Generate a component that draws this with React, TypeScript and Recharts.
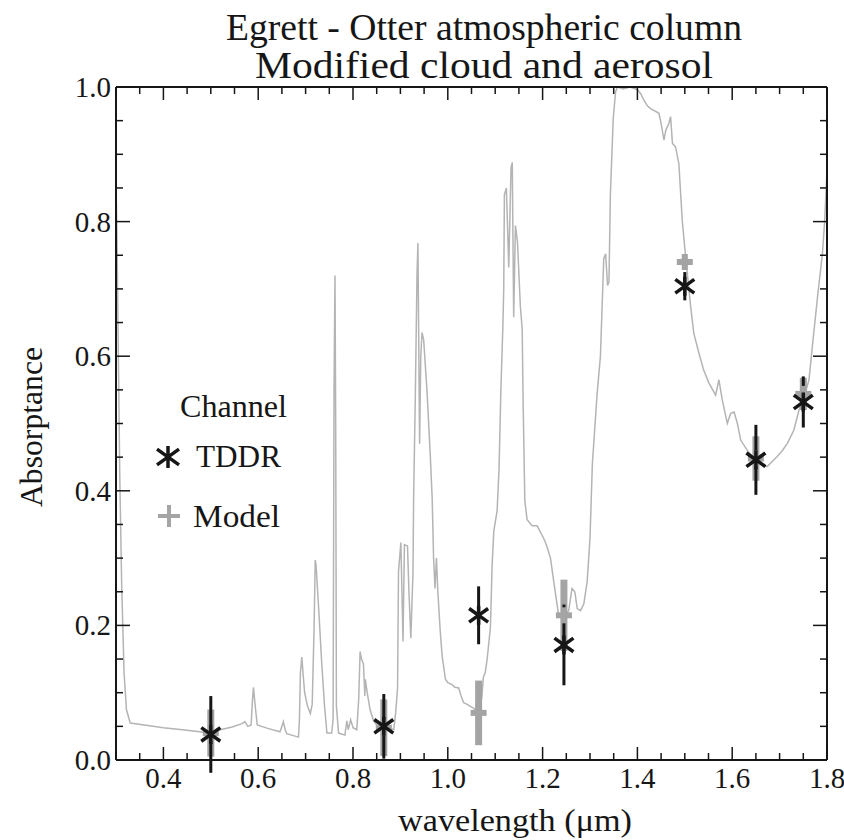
import React from 'react';
import { ComposedChart, Line, Scatter, ErrorBar, XAxis, YAxis, Legend } from 'recharts';

// modelled spectrum (gray line)
const specWl = [
  0.3, 0.302, 0.305, 0.308, 0.312, 0.317, 0.322, 0.33, 0.36, 0.4, 0.44, 0.477, 0.5, 0.52, 0.545, 0.566,
  0.572, 0.578, 0.585, 0.588, 0.59, 0.593, 0.598, 0.62, 0.646, 0.65, 0.653, 0.657, 0.66, 0.685, 0.687,
  0.689, 0.692, 0.695, 0.698, 0.704, 0.71, 0.714, 0.718, 0.7203, 0.722, 0.724, 0.728, 0.734, 0.74, 0.745,
  0.755, 0.758, 0.76, 0.762, 0.7635, 0.765, 0.7695, 0.783, 0.787, 0.79, 0.795, 0.8, 0.808, 0.812, 0.815,
  0.818, 0.822, 0.825, 0.826, 0.83, 0.836, 0.843, 0.852, 0.861, 0.87, 0.879, 0.886, 0.89, 0.894, 0.896,
  0.901, 0.9055, 0.9085, 0.915, 0.918, 0.922, 0.9265, 0.928, 0.9315, 0.935, 0.937, 0.938, 0.9405, 0.943,
  0.9456, 0.949, 0.956, 0.963, 0.967, 0.97, 0.973, 0.976, 0.979, 0.984, 0.988, 0.995, 1.0, 1.009, 1.015,
  1.023, 1.028, 1.0335, 1.04, 1.054, 1.062, 1.068, 1.072, 1.075, 1.079, 1.083, 1.09, 1.0934, 1.097, 1.104,
  1.108, 1.112, 1.116, 1.118, 1.1194, 1.1236, 1.1286, 1.1334, 1.136, 1.139, 1.1427, 1.147, 1.153, 1.157,
  1.159, 1.1625, 1.1673, 1.178, 1.1884, 1.199, 1.205, 1.2096, 1.2166, 1.227, 1.234, 1.24, 1.248, 1.255,
  1.262, 1.268, 1.273, 1.28, 1.287, 1.294, 1.3, 1.305, 1.315, 1.322, 1.329, 1.333, 1.337, 1.34, 1.343,
  1.349, 1.354, 1.358, 1.37, 1.385, 1.4, 1.407, 1.414, 1.421, 1.428, 1.4455, 1.45, 1.456, 1.46, 1.466,
  1.47, 1.474, 1.4805, 1.4875, 1.4946, 1.5017, 1.5123, 1.519, 1.53, 1.54, 1.551, 1.565, 1.572, 1.579,
  1.5897, 1.5967, 1.604, 1.611, 1.618, 1.632, 1.6425, 1.653, 1.664, 1.674, 1.685, 1.695, 1.706, 1.716,
  1.73, 1.741, 1.752, 1.762, 1.769, 1.78, 1.7904, 1.795, 1.8,
];
const specAbs = [
  0.86, 0.78, 0.6, 0.42, 0.26, 0.13, 0.075, 0.055, 0.052, 0.048, 0.045, 0.042, 0.039, 0.045, 0.049, 0.054,
  0.057, 0.05, 0.052, 0.09, 0.108, 0.085, 0.052, 0.047, 0.042, 0.05, 0.057, 0.045, 0.039, 0.034, 0.06,
  0.129, 0.153, 0.125, 0.1, 0.08, 0.069, 0.083, 0.2, 0.297, 0.29, 0.267, 0.22, 0.144, 0.08, 0.04,
  0.04, 0.06, 0.55, 0.72, 0.5, 0.08, 0.04, 0.037, 0.058, 0.045, 0.06, 0.048, 0.045, 0.09, 0.161,
  0.15, 0.143, 0.095, 0.12, 0.1, 0.075, 0.059, 0.05, 0.047, 0.048, 0.047, 0.045, 0.07, 0.107, 0.28,
  0.323, 0.176, 0.32, 0.318, 0.25, 0.181, 0.278, 0.395, 0.541, 0.72, 0.768, 0.68, 0.47, 0.6,
  0.635, 0.625, 0.55, 0.453, 0.39, 0.3, 0.255, 0.3, 0.25, 0.192, 0.155, 0.12, 0.115, 0.112, 0.108,
  0.107, 0.095, 0.085, 0.083, 0.077, 0.072, 0.075, 0.095, 0.123, 0.13, 0.15, 0.198, 0.287, 0.34, 0.37,
  0.43, 0.55, 0.64, 0.7, 0.84, 0.85, 0.732, 0.88, 0.888, 0.658, 0.794, 0.77, 0.675, 0.64,
  0.527, 0.385, 0.357, 0.348, 0.348, 0.334, 0.325, 0.316, 0.3, 0.248, 0.214, 0.215, 0.215, 0.222,
  0.255, 0.25, 0.225, 0.222, 0.232, 0.265, 0.33, 0.44, 0.544, 0.6, 0.745, 0.752, 0.705, 0.71, 0.84,
  0.953, 0.993, 1.0, 0.997, 1.0, 0.996, 0.99, 0.98, 0.972, 0.968, 0.961, 0.946, 0.921, 0.936, 0.945,
  0.956, 0.916, 0.911, 0.886, 0.802, 0.748, 0.674, 0.634, 0.604, 0.579, 0.56, 0.542, 0.565, 0.535,
  0.5, 0.515, 0.517, 0.5, 0.475, 0.46, 0.451, 0.445, 0.437, 0.436, 0.444, 0.451, 0.46, 0.47,
  0.49, 0.52, 0.54, 0.565, 0.614, 0.688, 0.753, 0.8, 0.875,
];

// channel measurements
const channelWl = [0.5, 0.865, 1.065, 1.245, 1.5, 1.65, 1.75];
const tddrAbs = [0.038, 0.05, 0.215, 0.171, 0.704, 0.446, 0.532];
const tddrErr = [0.057, 0.048, 0.043, 0.06, 0.021, 0.052, 0.038];
const modelAbs = [0.04, 0.048, 0.07, 0.215, 0.74, 0.448, 0.544];
const modelErr = [0.035, 0.042, 0.048, 0.053, 0.005, 0.033, 0.024];

const xTicks = [
  0.3, 0.35, 0.4, 0.45, 0.5, 0.55, 0.6, 0.65, 0.7, 0.75, 0.8, 0.85, 0.9, 0.95, 1.0, 1.05,
  1.1, 1.15, 1.2, 1.25, 1.3, 1.35, 1.4, 1.45, 1.5, 1.55, 1.6, 1.65, 1.7, 1.75, 1.8,
];
const yTicks = [
  0, 0.05, 0.1, 0.15, 0.2, 0.25, 0.3, 0.35, 0.4, 0.45, 0.5, 0.55, 0.6, 0.65, 0.7, 0.75, 0.8, 0.85, 0.9, 0.95, 1.0,
];

const spectrum = specWl.map((w, i) => ({ w, a: specAbs[i] }));
const tddr = channelWl.map((w, i) => ({ w, v: tddrAbs[i], e: tddrErr[i] }));
const model = channelWl.map((w, i) => ({ w, v: modelAbs[i], e: modelErr[i] }));

const FONT = 'Liberation Serif, Tinos, DejaVu Serif, Times New Roman, serif';
const serif = { fontFamily: FONT };
const INK = '#161616';
const LINE_GRAY = '#b4b4b4';
const MODEL_GRAY = '#a4a4a4';

const isMajor = (v: number) => Math.round(v * 100) % 20 === 0;

function BottomTick(props: any) {
  const { x, y, payload } = props;
  const v = payload.value;
  return (
    <g>
      <line x1={x} x2={x} y1={y} y2={y - (isMajor(v) ? 13 : 7)} stroke={INK} strokeWidth={1.5} />
      {isMajor(v) && (
        <text x={x} y={y + 28} textAnchor="middle" fontSize={29} style={serif} fill={INK}>
          {v.toFixed(1)}
        </text>
      )}
    </g>
  );
}

function TopTick(props: any) {
  const { x, y, payload } = props;
  return <line x1={x} x2={x} y1={y} y2={y + (isMajor(payload.value) ? 13 : 7)} stroke={INK} strokeWidth={1.5} />;
}

function LeftTick(props: any) {
  const { x, y, payload } = props;
  const v = payload.value;
  return (
    <g>
      <line x1={x} x2={x + (isMajor(v) ? 14 : 7)} y1={y} y2={y} stroke={INK} strokeWidth={1.5} />
      {isMajor(v) && (
        <text x={x - 5} y={y + 10} textAnchor="end" fontSize={29} style={serif} fill={INK}>
          {v.toFixed(1)}
        </text>
      )}
    </g>
  );
}

function RightTick(props: any) {
  const { x, y, payload } = props;
  return <line x1={x} x2={x - (isMajor(payload.value) ? 14 : 7)} y1={y} y2={y} stroke={INK} strokeWidth={1.5} />;
}

function Star(props: any) {
  const { cx, cy } = props;
  const r = props.r ?? 9;
  const dx = r;
  const dy = r * 0.72;
  return (
    <g stroke={INK} strokeWidth={3.5}>
      <line x1={cx} x2={cx} y1={cy - r} y2={cy + r} />
      <line x1={cx - dx} x2={cx + dx} y1={cy - dy} y2={cy + dy} />
      <line x1={cx - dx} x2={cx + dx} y1={cy + dy} y2={cy - dy} />
    </g>
  );
}

function Plus(props: any) {
  const { cx, cy } = props;
  const r = props.r ?? 8;
  return (
    <g stroke={MODEL_GRAY} strokeWidth={props.sw ?? 6}>
      <line x1={cx - r} x2={cx + r} y1={cy} y2={cy} />
      <line x1={cx} x2={cx} y1={cy - r} y2={cy + r} />
    </g>
  );
}

function ChannelLegend() {
  return (
    <svg width={200} height={160} style={{ overflow: 'visible' }}>
      <text x={30} y={37} fontSize={31} style={serif} fill={INK} textLength={107} lengthAdjust="spacingAndGlyphs">Channel</text>
      <Star cx={18} cy={77} r={11} />
      <text x={46} y={87} fontSize={31} style={serif} fill={INK} textLength={85} lengthAdjust="spacingAndGlyphs">TDDR</text>
      <Plus cx={19} cy={136} r={11} sw={4} />
      <text x={43} y={147} fontSize={31} style={serif} fill={INK} textLength={87} lengthAdjust="spacingAndGlyphs">Model</text>
    </svg>
  );
}

export default function App() {
  return (
    <div style={{ position: 'absolute', left: 0, top: 0, width: 844, height: 840, background: '#fff', ...serif }}>
      <ComposedChart width={844} height={840} margin={{ top: 0, right: 0, bottom: 0, left: 0 }}>
        <XAxis
          dataKey="w"
          type="number"
          domain={[0.3, 1.8]}
          ticks={xTicks}
          interval={0}
          allowDataOverflow
          height={80}
          tickSize={0}
          tickMargin={0}
          tick={<BottomTick />}
          axisLine={{ stroke: INK, strokeWidth: 2 }}
        />
        <XAxis
          xAxisId="top"
          orientation="top"
          dataKey="w"
          type="number"
          domain={[0.3, 1.8]}
          ticks={xTicks}
          interval={0}
          allowDataOverflow
          height={87}
          tickSize={0}
          tickMargin={0}
          tick={<TopTick />}
          axisLine={{ stroke: INK, strokeWidth: 2 }}
        />
        <YAxis
          type="number"
          domain={[0, 1]}
          ticks={yTicks}
          interval={0}
          allowDataOverflow
          width={116}
          tickSize={0}
          tickMargin={0}
          tick={<LeftTick />}
          axisLine={{ stroke: INK, strokeWidth: 2 }}
        />
        <YAxis
          yAxisId="right"
          orientation="right"
          type="number"
          domain={[0, 1]}
          ticks={yTicks}
          interval={0}
          allowDataOverflow
          width={17}
          tickSize={0}
          tickMargin={0}
          tick={<RightTick />}
          axisLine={{ stroke: INK, strokeWidth: 2 }}
        />
        <Line
          data={spectrum}
          dataKey="a"
          type="linear"
          stroke={LINE_GRAY}
          strokeWidth={1.5}
          dot={false}
          isAnimationActive={false}
          legendType="none"
        />
        <Scatter data={model} dataKey="v" shape={(p: any) => <Plus {...p} r={8} />} isAnimationActive={false}>
          <ErrorBar dataKey="e" direction="y" width={0} stroke={MODEL_GRAY} strokeWidth={7} />
        </Scatter>
        <Scatter data={tddr} dataKey="v" shape={(p: any) => <Star {...p} r={9.5} />} isAnimationActive={false}>
          <ErrorBar dataKey="e" direction="y" width={0} stroke={INK} strokeWidth={3} />
        </Scatter>
        <Legend
          layout="vertical"
          align="center"
          verticalAlign="middle"
          content={() => <ChannelLegend />}
          wrapperStyle={{ left: 150, top: 380, width: 200, height: 160 }}
        />
      </ComposedChart>
      <svg
        width={844}
        height={840}
        style={{ position: 'absolute', left: 0, top: 0, pointerEvents: 'none', ...serif }}
        fill={INK}
      >
        <text x={484} y={40} textAnchor="middle" fontSize={37} textLength={516} lengthAdjust="spacingAndGlyphs">
          Egrett - Otter atmospheric column
        </text>
        <text x={484} y={78} textAnchor="middle" fontSize={37} textLength={458} lengthAdjust="spacingAndGlyphs">
          Modified cloud and aerosol
        </text>
        <text x={515} y={831} textAnchor="middle" fontSize={31} textLength={234} lengthAdjust="spacingAndGlyphs">
          wavelength (μm)
        </text>
        <text
          transform="translate(42, 427) rotate(-90)"
          textAnchor="middle"
          fontSize={31}
          textLength={160}
          lengthAdjust="spacingAndGlyphs"
        >
          Absorptance
        </text>
      </svg>
    </div>
  );
}
